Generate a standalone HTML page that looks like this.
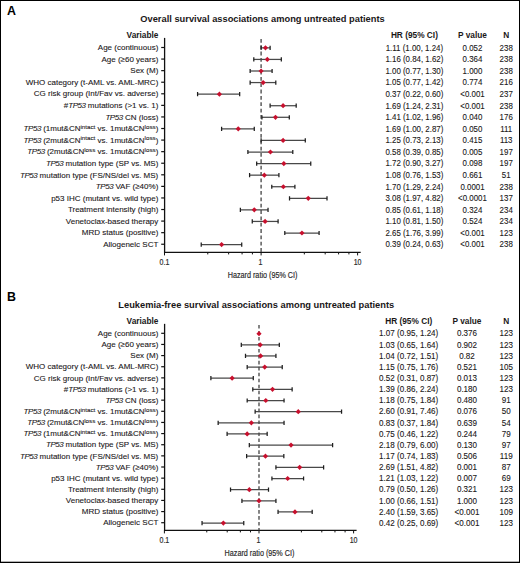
<!DOCTYPE html>
<html><head><meta charset="utf-8"><style>
html,body{margin:0;padding:0;background:#fff;}
body{width:520px;height:563px;overflow:hidden;position:relative;font-family:"Liberation Sans", sans-serif;}
#frame{position:absolute;left:0;top:0;width:518px;height:561px;border:1px solid #000;}
svg{position:absolute;left:0;top:0;}
#bb{position:absolute;left:1px;top:561px;width:518px;height:1px;background:rgba(0,0,0,0.3);}
</style></head><body><div id="frame"></div><div id="bb"></div>
<svg width="520" height="563" viewBox="0 0 520 563" font-family='"Liberation Sans", sans-serif' fill="#1a1718"><style>.r{stroke:#1a1718;stroke-width:0.1px;}</style>
<text x="6.90" y="15.30" font-size="12.4" font-weight="bold" fill="#000">A</text>
<text x="262.50" y="22.40" font-size="9.4" text-anchor="middle" font-weight="bold" transform="matrix(0.99 0 0 1 2.625 0)">Overall survival associations among untreated patients</text>
<text x="158.40" y="38.00" font-size="8.3" text-anchor="end" font-weight="bold">Variable</text>
<text x="414.40" y="38.00" font-size="8.3" text-anchor="middle" font-weight="bold">HR (95% CI)</text>
<text x="472.50" y="38.00" font-size="8.3" text-anchor="middle" font-weight="bold">P value</text>
<text x="506.20" y="38.00" font-size="8.3" text-anchor="middle" font-weight="bold">N</text>
<line x1="164.6" y1="37.9" x2="164.6" y2="253.1" stroke="#111" stroke-width="1.3"/>
<line x1="164.0" y1="252.4" x2="360.7" y2="252.4" stroke="#111" stroke-width="1.3"/>
<line x1="261.1" y1="38.9" x2="261.1" y2="252.4" stroke="#4a4a4a" stroke-width="1.35" stroke-dasharray="3.8 2.54"/>
<line x1="164.5" y1="252.4" x2="164.5" y2="255.4" stroke="#111" stroke-width="1"/>
<text x="164.50" y="265.00" font-size="8.3" text-anchor="middle" fill="#2a2a2a" transform="matrix(0.85 0 0 1 24.675 0)" stroke="#2a2a2a" stroke-width="0.18">0.1</text>
<line x1="261.1" y1="252.4" x2="261.1" y2="255.4" stroke="#111" stroke-width="1"/>
<text x="260.50" y="265.00" font-size="8.3" text-anchor="middle" fill="#2a2a2a" transform="matrix(0.85 0 0 1 39.075 0)" stroke="#2a2a2a" stroke-width="0.18">1</text>
<line x1="357.6" y1="252.4" x2="357.6" y2="255.4" stroke="#111" stroke-width="1"/>
<text x="357.60" y="265.00" font-size="8.3" text-anchor="middle" fill="#2a2a2a" transform="matrix(0.85 0 0 1 53.640 0)" stroke="#2a2a2a" stroke-width="0.18">10</text>
<line x1="207.78" y1="252.4" x2="207.78" y2="254.4" stroke="#111" stroke-width="1"/>
<line x1="228.64" y1="252.4" x2="228.64" y2="254.4" stroke="#111" stroke-width="1"/>
<line x1="242.07" y1="252.4" x2="242.07" y2="254.4" stroke="#111" stroke-width="1"/>
<line x1="252.41" y1="252.4" x2="252.41" y2="254.4" stroke="#111" stroke-width="1"/>
<line x1="304.33" y1="252.4" x2="304.33" y2="254.4" stroke="#111" stroke-width="1"/>
<line x1="325.18" y1="252.4" x2="325.18" y2="254.4" stroke="#111" stroke-width="1"/>
<line x1="338.59" y1="252.4" x2="338.59" y2="254.4" stroke="#111" stroke-width="1"/>
<line x1="348.92" y1="252.4" x2="348.92" y2="254.4" stroke="#111" stroke-width="1"/>
<text x="262.60" y="277.70" font-size="8.4" text-anchor="middle" fill="#2a2a2a" transform="matrix(0.86 0 0 1 36.764 0)" stroke="#2a2a2a" stroke-width="0.18">Hazard ratio (95% CI)</text>
<line x1="161.2" y1="47.50" x2="164.5" y2="47.50" stroke="#111" stroke-width="1.2"/>
<path d="M261.10 47.85H270.12" stroke="#484848" stroke-width="1.25" fill="none"/>
<path d="M261.10 45.75V49.95M270.12 45.75V49.95" stroke="#1e1e1e" stroke-width="1.25" fill="none"/>
<path d="M265.47 45.25L268.07 47.85L265.47 50.45L262.87 47.85Z" fill="#c8102e"/>
<text x="158.30" y="50.20" font-size="8.0" text-anchor="end" class="r">Age (continuous)</text>
<text x="414.40" y="50.70" font-size="8.2" text-anchor="middle" transform="matrix(0.965 0 0 1 14.504 0)" class="r">1.11 (1.00, 1.24)</text>
<text x="472.50" y="50.70" font-size="8.2" text-anchor="middle" transform="matrix(0.965 0 0 1 16.538 0)" class="r">0.052</text>
<text x="506.20" y="50.70" font-size="8.2" text-anchor="middle" transform="matrix(0.965 0 0 1 17.717 0)" class="r">238</text>
<line x1="161.2" y1="59.07" x2="164.5" y2="59.07" stroke="#111" stroke-width="1.2"/>
<path d="M253.79 59.42H281.32" stroke="#484848" stroke-width="1.25" fill="none"/>
<path d="M253.79 57.32V61.52M281.32 57.32V61.52" stroke="#1e1e1e" stroke-width="1.25" fill="none"/>
<path d="M267.32 56.82L269.92 59.42L267.32 62.02L264.72 59.42Z" fill="#c8102e"/>
<text x="158.30" y="61.77" font-size="8.0" text-anchor="end" class="r">Age (≥60 years)</text>
<text x="414.40" y="62.27" font-size="8.2" text-anchor="middle" transform="matrix(0.965 0 0 1 14.504 0)" class="r">1.16 (0.84, 1.62)</text>
<text x="472.50" y="62.27" font-size="8.2" text-anchor="middle" transform="matrix(0.965 0 0 1 16.538 0)" class="r">0.364</text>
<text x="506.20" y="62.27" font-size="8.2" text-anchor="middle" transform="matrix(0.965 0 0 1 17.717 0)" class="r">238</text>
<line x1="161.2" y1="70.65" x2="164.5" y2="70.65" stroke="#111" stroke-width="1.2"/>
<path d="M250.14 71.00H272.10" stroke="#484848" stroke-width="1.25" fill="none"/>
<path d="M250.14 68.90V73.10M272.10 68.90V73.10" stroke="#1e1e1e" stroke-width="1.25" fill="none"/>
<path d="M261.10 68.40L263.70 71.00L261.10 73.60L258.50 71.00Z" fill="#c8102e"/>
<text x="158.30" y="73.35" font-size="8.0" text-anchor="end" class="r">Sex (M)</text>
<text x="414.40" y="73.85" font-size="8.2" text-anchor="middle" transform="matrix(0.965 0 0 1 14.504 0)" class="r">1.00 (0.77, 1.30)</text>
<text x="472.50" y="73.85" font-size="8.2" text-anchor="middle" transform="matrix(0.965 0 0 1 16.538 0)" class="r">1.000</text>
<text x="506.20" y="73.85" font-size="8.2" text-anchor="middle" transform="matrix(0.965 0 0 1 17.717 0)" class="r">238</text>
<line x1="161.2" y1="82.22" x2="164.5" y2="82.22" stroke="#111" stroke-width="1.2"/>
<path d="M250.14 82.57H275.80" stroke="#484848" stroke-width="1.25" fill="none"/>
<path d="M250.14 80.47V84.67M275.80 80.47V84.67" stroke="#1e1e1e" stroke-width="1.25" fill="none"/>
<path d="M263.14 79.97L265.74 82.57L263.14 85.17L260.54 82.57Z" fill="#c8102e"/>
<text x="158.30" y="84.92" font-size="8.0" text-anchor="end" class="r">WHO category (t-AML vs. AML-MRC)</text>
<text x="414.40" y="85.42" font-size="8.2" text-anchor="middle" transform="matrix(0.965 0 0 1 14.504 0)" class="r">1.05 (0.77, 1.42)</text>
<text x="472.50" y="85.42" font-size="8.2" text-anchor="middle" transform="matrix(0.965 0 0 1 16.538 0)" class="r">0.774</text>
<text x="506.20" y="85.42" font-size="8.2" text-anchor="middle" transform="matrix(0.965 0 0 1 17.717 0)" class="r">216</text>
<line x1="161.2" y1="93.79" x2="164.5" y2="93.79" stroke="#111" stroke-width="1.2"/>
<path d="M197.58 94.14H239.67" stroke="#484848" stroke-width="1.25" fill="none"/>
<path d="M197.58 92.04V96.24M239.67 92.04V96.24" stroke="#1e1e1e" stroke-width="1.25" fill="none"/>
<path d="M219.39 91.54L221.99 94.14L219.39 96.74L216.79 94.14Z" fill="#c8102e"/>
<text x="158.30" y="96.49" font-size="8.0" text-anchor="end" class="r">CG risk group (Int/Fav vs. adverse)</text>
<text x="414.40" y="96.99" font-size="8.2" text-anchor="middle" transform="matrix(0.965 0 0 1 14.504 0)" class="r">0.37 (0.22, 0.60)</text>
<text x="472.50" y="96.99" font-size="8.2" text-anchor="middle" transform="matrix(0.965 0 0 1 16.538 0)" class="r">&lt;0.001</text>
<text x="506.20" y="96.99" font-size="8.2" text-anchor="middle" transform="matrix(0.965 0 0 1 17.717 0)" class="r">237</text>
<line x1="161.2" y1="105.37" x2="164.5" y2="105.37" stroke="#111" stroke-width="1.2"/>
<path d="M270.12 105.72H296.19" stroke="#484848" stroke-width="1.25" fill="none"/>
<path d="M270.12 103.62V107.81M296.19 103.62V107.81" stroke="#1e1e1e" stroke-width="1.25" fill="none"/>
<path d="M283.09 103.12L285.69 105.72L283.09 108.31L280.49 105.72Z" fill="#c8102e"/>
<text x="158.30" y="108.07" font-size="8.0" text-anchor="end" class="r">#<tspan font-style="italic" letter-spacing="-0.45">TP53</tspan> mutations (&gt;1 vs. 1)</text>
<text x="414.40" y="108.57" font-size="8.2" text-anchor="middle" transform="matrix(0.965 0 0 1 14.504 0)" class="r">1.69 (1.24, 2.31)</text>
<text x="472.50" y="108.57" font-size="8.2" text-anchor="middle" transform="matrix(0.965 0 0 1 16.538 0)" class="r">&lt;0.001</text>
<text x="506.20" y="108.57" font-size="8.2" text-anchor="middle" transform="matrix(0.965 0 0 1 17.717 0)" class="r">238</text>
<line x1="161.2" y1="116.94" x2="164.5" y2="116.94" stroke="#111" stroke-width="1.2"/>
<path d="M261.93 117.29H289.30" stroke="#484848" stroke-width="1.25" fill="none"/>
<path d="M261.93 115.19V119.39M289.30 115.19V119.39" stroke="#1e1e1e" stroke-width="1.25" fill="none"/>
<path d="M275.50 114.69L278.10 117.29L275.50 119.89L272.90 117.29Z" fill="#c8102e"/>
<text x="158.30" y="119.64" font-size="8.0" text-anchor="end" class="r"><tspan font-style="italic" letter-spacing="-0.45">TP53</tspan> CN (loss)</text>
<text x="414.40" y="120.14" font-size="8.2" text-anchor="middle" transform="matrix(0.965 0 0 1 14.504 0)" class="r">1.41 (1.02, 1.96)</text>
<text x="472.50" y="120.14" font-size="8.2" text-anchor="middle" transform="matrix(0.965 0 0 1 16.538 0)" class="r">0.040</text>
<text x="506.20" y="120.14" font-size="8.2" text-anchor="middle" transform="matrix(0.965 0 0 1 17.717 0)" class="r">176</text>
<line x1="161.2" y1="128.51" x2="164.5" y2="128.51" stroke="#111" stroke-width="1.2"/>
<path d="M221.60 128.86H254.28" stroke="#484848" stroke-width="1.25" fill="none"/>
<path d="M221.60 126.76V130.96M254.28 126.76V130.96" stroke="#1e1e1e" stroke-width="1.25" fill="none"/>
<path d="M238.25 126.26L240.85 128.86L238.25 131.46L235.65 128.86Z" fill="#c8102e"/>
<text x="158.30" y="131.21" font-size="8.0" text-anchor="end" class="r"><tspan font-style="italic" letter-spacing="-0.45">TP53</tspan> (1mut&amp;CN<tspan font-size="6.2" dy="-2.4">intact</tspan><tspan dy="2.4"> vs. 1mut&amp;CN</tspan><tspan font-size="6.2" dy="-2.4">loss</tspan><tspan dy="2.4">)</tspan></text>
<text x="414.40" y="131.71" font-size="8.2" text-anchor="middle" transform="matrix(0.965 0 0 1 14.504 0)" class="r">1.69 (1.00, 2.87)</text>
<text x="472.50" y="131.71" font-size="8.2" text-anchor="middle" transform="matrix(0.965 0 0 1 16.538 0)" class="r">0.050</text>
<text x="506.20" y="131.71" font-size="8.2" text-anchor="middle" transform="matrix(0.965 0 0 1 17.717 0)" class="r">111</text>
<line x1="161.2" y1="140.08" x2="164.5" y2="140.08" stroke="#111" stroke-width="1.2"/>
<path d="M261.10 140.43H305.29" stroke="#484848" stroke-width="1.25" fill="none"/>
<path d="M261.10 138.33V142.53M305.29 138.33V142.53" stroke="#1e1e1e" stroke-width="1.25" fill="none"/>
<path d="M283.09 137.83L285.69 140.43L283.09 143.03L280.49 140.43Z" fill="#c8102e"/>
<text x="158.30" y="142.78" font-size="8.0" text-anchor="end" class="r"><tspan font-style="italic" letter-spacing="-0.45">TP53</tspan> (2mut&amp;CN<tspan font-size="6.2" dy="-2.4">intact</tspan><tspan dy="2.4"> vs. 1mut&amp;CN</tspan><tspan font-size="6.2" dy="-2.4">loss</tspan><tspan dy="2.4">)</tspan></text>
<text x="414.40" y="143.28" font-size="8.2" text-anchor="middle" transform="matrix(0.965 0 0 1 14.504 0)" class="r">1.25 (0.73, 2.13)</text>
<text x="472.50" y="143.28" font-size="8.2" text-anchor="middle" transform="matrix(0.965 0 0 1 16.538 0)" class="r">0.415</text>
<text x="506.20" y="143.28" font-size="8.2" text-anchor="middle" transform="matrix(0.965 0 0 1 17.717 0)" class="r">113</text>
<line x1="161.2" y1="151.66" x2="164.5" y2="151.66" stroke="#111" stroke-width="1.2"/>
<path d="M247.90 152.01H292.79" stroke="#484848" stroke-width="1.25" fill="none"/>
<path d="M247.90 149.91V154.11M292.79 149.91V154.11" stroke="#1e1e1e" stroke-width="1.25" fill="none"/>
<path d="M270.45 149.41L273.05 152.01L270.45 154.61L267.85 152.01Z" fill="#c8102e"/>
<text x="158.30" y="154.36" font-size="8.0" text-anchor="end" class="r"><tspan font-style="italic" letter-spacing="-0.45">TP53</tspan> (2mut&amp;CN<tspan font-size="6.2" dy="-2.4">loss</tspan><tspan dy="2.4"> vs. 1mut&amp;CN</tspan><tspan font-size="6.2" dy="-2.4">loss</tspan><tspan dy="2.4">)</tspan></text>
<text x="414.40" y="154.86" font-size="8.2" text-anchor="middle" transform="matrix(0.965 0 0 1 14.504 0)" class="r">0.58 (0.39, 0.85)</text>
<text x="472.50" y="154.86" font-size="8.2" text-anchor="middle" transform="matrix(0.965 0 0 1 16.538 0)" class="r">0.005</text>
<text x="506.20" y="154.86" font-size="8.2" text-anchor="middle" transform="matrix(0.965 0 0 1 17.717 0)" class="r">197</text>
<line x1="161.2" y1="163.23" x2="164.5" y2="163.23" stroke="#111" stroke-width="1.2"/>
<path d="M256.68 163.58H310.75" stroke="#484848" stroke-width="1.25" fill="none"/>
<path d="M256.68 161.48V165.68M310.75 161.48V165.68" stroke="#1e1e1e" stroke-width="1.25" fill="none"/>
<path d="M283.83 160.98L286.43 163.58L283.83 166.18L281.23 163.58Z" fill="#c8102e"/>
<text x="158.30" y="165.93" font-size="8.0" text-anchor="end" class="r"><tspan font-style="italic" letter-spacing="-0.45">TP53</tspan> mutation type (SP vs. MS)</text>
<text x="414.40" y="166.43" font-size="8.2" text-anchor="middle" transform="matrix(0.965 0 0 1 14.504 0)" class="r">1.72 (0.90, 3.27)</text>
<text x="472.50" y="166.43" font-size="8.2" text-anchor="middle" transform="matrix(0.965 0 0 1 16.538 0)" class="r">0.098</text>
<text x="506.20" y="166.43" font-size="8.2" text-anchor="middle" transform="matrix(0.965 0 0 1 17.717 0)" class="r">197</text>
<line x1="161.2" y1="174.80" x2="164.5" y2="174.80" stroke="#111" stroke-width="1.2"/>
<path d="M249.59 175.15H278.92" stroke="#484848" stroke-width="1.25" fill="none"/>
<path d="M249.59 173.05V177.25M278.92 173.05V177.25" stroke="#1e1e1e" stroke-width="1.25" fill="none"/>
<path d="M264.33 172.55L266.93 175.15L264.33 177.75L261.73 175.15Z" fill="#c8102e"/>
<text x="158.30" y="177.50" font-size="8.0" text-anchor="end" class="r"><tspan font-style="italic" letter-spacing="-0.45">TP53</tspan> mutation type (FS/NS/del vs. MS)</text>
<text x="414.40" y="178.00" font-size="8.2" text-anchor="middle" transform="matrix(0.965 0 0 1 14.504 0)" class="r">1.08 (0.76, 1.53)</text>
<text x="472.50" y="178.00" font-size="8.2" text-anchor="middle" transform="matrix(0.965 0 0 1 16.538 0)" class="r">0.661</text>
<text x="506.20" y="178.00" font-size="8.2" text-anchor="middle" transform="matrix(0.965 0 0 1 17.717 0)" class="r">51</text>
<line x1="161.2" y1="186.38" x2="164.5" y2="186.38" stroke="#111" stroke-width="1.2"/>
<path d="M271.77 186.73H294.90" stroke="#484848" stroke-width="1.25" fill="none"/>
<path d="M271.77 184.63V188.83M294.90 184.63V188.83" stroke="#1e1e1e" stroke-width="1.25" fill="none"/>
<path d="M283.34 184.13L285.94 186.73L283.34 189.33L280.74 186.73Z" fill="#c8102e"/>
<text x="158.30" y="189.08" font-size="8.0" text-anchor="end" class="r"><tspan font-style="italic" letter-spacing="-0.45">TP53</tspan> VAF (≥40%)</text>
<text x="414.40" y="189.58" font-size="8.2" text-anchor="middle" transform="matrix(0.965 0 0 1 14.504 0)" class="r">1.70 (1.29, 2.24)</text>
<text x="472.50" y="189.58" font-size="8.2" text-anchor="middle" transform="matrix(0.965 0 0 1 16.538 0)" class="r">0.0001</text>
<text x="506.20" y="189.58" font-size="8.2" text-anchor="middle" transform="matrix(0.965 0 0 1 17.717 0)" class="r">238</text>
<line x1="161.2" y1="197.95" x2="164.5" y2="197.95" stroke="#111" stroke-width="1.2"/>
<path d="M289.52 198.30H327.01" stroke="#484848" stroke-width="1.25" fill="none"/>
<path d="M289.52 196.20V200.40M327.01 196.20V200.40" stroke="#1e1e1e" stroke-width="1.25" fill="none"/>
<path d="M308.25 195.70L310.85 198.30L308.25 200.90L305.65 198.30Z" fill="#c8102e"/>
<text x="158.30" y="200.65" font-size="8.0" text-anchor="end" class="r">p53 IHC (mutant vs. wild type)</text>
<text x="414.40" y="201.15" font-size="8.2" text-anchor="middle" transform="matrix(0.965 0 0 1 14.504 0)" class="r">3.08 (1.97, 4.82)</text>
<text x="472.50" y="201.15" font-size="8.2" text-anchor="middle" transform="matrix(0.965 0 0 1 16.538 0)" class="r">&lt;0.0001</text>
<text x="506.20" y="201.15" font-size="8.2" text-anchor="middle" transform="matrix(0.965 0 0 1 17.717 0)" class="r">137</text>
<line x1="161.2" y1="209.52" x2="164.5" y2="209.52" stroke="#111" stroke-width="1.2"/>
<path d="M240.36 209.87H268.04" stroke="#484848" stroke-width="1.25" fill="none"/>
<path d="M240.36 207.77V211.97M268.04 207.77V211.97" stroke="#1e1e1e" stroke-width="1.25" fill="none"/>
<path d="M254.28 207.27L256.88 209.87L254.28 212.47L251.68 209.87Z" fill="#c8102e"/>
<text x="158.30" y="212.22" font-size="8.0" text-anchor="end" class="r">Treatment intensity (high)</text>
<text x="414.40" y="212.72" font-size="8.2" text-anchor="middle" transform="matrix(0.965 0 0 1 14.504 0)" class="r">0.85 (0.61, 1.18)</text>
<text x="472.50" y="212.72" font-size="8.2" text-anchor="middle" transform="matrix(0.965 0 0 1 16.538 0)" class="r">0.324</text>
<text x="506.20" y="212.72" font-size="8.2" text-anchor="middle" transform="matrix(0.965 0 0 1 17.717 0)" class="r">234</text>
<line x1="161.2" y1="221.09" x2="164.5" y2="221.09" stroke="#111" stroke-width="1.2"/>
<path d="M252.26 221.44H278.09" stroke="#484848" stroke-width="1.25" fill="none"/>
<path d="M252.26 219.34V223.54M278.09 219.34V223.54" stroke="#1e1e1e" stroke-width="1.25" fill="none"/>
<path d="M265.09 218.84L267.69 221.44L265.09 224.04L262.49 221.44Z" fill="#c8102e"/>
<text x="158.30" y="223.79" font-size="8.0" text-anchor="end" class="r">Venetoclax-based therapy</text>
<text x="414.40" y="224.29" font-size="8.2" text-anchor="middle" transform="matrix(0.965 0 0 1 14.504 0)" class="r">1.10 (0.81, 1.50)</text>
<text x="472.50" y="224.29" font-size="8.2" text-anchor="middle" transform="matrix(0.965 0 0 1 16.538 0)" class="r">0.524</text>
<text x="506.20" y="224.29" font-size="8.2" text-anchor="middle" transform="matrix(0.965 0 0 1 17.717 0)" class="r">234</text>
<line x1="161.2" y1="232.67" x2="164.5" y2="232.67" stroke="#111" stroke-width="1.2"/>
<path d="M284.79 233.02H319.09" stroke="#484848" stroke-width="1.25" fill="none"/>
<path d="M284.79 230.92V235.12M319.09 230.92V235.12" stroke="#1e1e1e" stroke-width="1.25" fill="none"/>
<path d="M301.94 230.42L304.54 233.02L301.94 235.62L299.34 233.02Z" fill="#c8102e"/>
<text x="158.30" y="235.37" font-size="8.0" text-anchor="end" class="r">MRD status (positive)</text>
<text x="414.40" y="235.87" font-size="8.2" text-anchor="middle" transform="matrix(0.965 0 0 1 14.504 0)" class="r">2.65 (1.76, 3.99)</text>
<text x="472.50" y="235.87" font-size="8.2" text-anchor="middle" transform="matrix(0.965 0 0 1 16.538 0)" class="r">&lt;0.001</text>
<text x="506.20" y="235.87" font-size="8.2" text-anchor="middle" transform="matrix(0.965 0 0 1 17.717 0)" class="r">123</text>
<line x1="161.2" y1="244.24" x2="164.5" y2="244.24" stroke="#111" stroke-width="1.2"/>
<path d="M201.23 244.59H241.72" stroke="#484848" stroke-width="1.25" fill="none"/>
<path d="M201.23 242.49V246.69M241.72 242.49V246.69" stroke="#1e1e1e" stroke-width="1.25" fill="none"/>
<path d="M221.60 241.99L224.20 244.59L221.60 247.19L219.00 244.59Z" fill="#c8102e"/>
<text x="158.30" y="246.94" font-size="8.0" text-anchor="end" class="r">Allogeneic SCT</text>
<text x="414.40" y="247.44" font-size="8.2" text-anchor="middle" transform="matrix(0.965 0 0 1 14.504 0)" class="r">0.39 (0.24, 0.63)</text>
<text x="472.50" y="247.44" font-size="8.2" text-anchor="middle" transform="matrix(0.965 0 0 1 16.538 0)" class="r">&lt;0.001</text>
<text x="506.20" y="247.44" font-size="8.2" text-anchor="middle" transform="matrix(0.965 0 0 1 17.717 0)" class="r">238</text>
<text x="6.90" y="300.60" font-size="12.4" font-weight="bold" fill="#000">B</text>
<text x="256.25" y="307.90" font-size="9.4" text-anchor="middle" font-weight="bold" transform="matrix(0.99 0 0 1 2.563 0)">Leukemia-free survival associations among untreated patients</text>
<text x="158.40" y="324.10" font-size="8.3" text-anchor="end" font-weight="bold">Variable</text>
<text x="408.70" y="324.20" font-size="8.3" text-anchor="middle" font-weight="bold">HR (95% CI)</text>
<text x="467.00" y="324.20" font-size="8.3" text-anchor="middle" font-weight="bold">P value</text>
<text x="506.20" y="324.20" font-size="8.3" text-anchor="middle" font-weight="bold">N</text>
<line x1="164.6" y1="323.85" x2="164.6" y2="531.1" stroke="#111" stroke-width="1.3"/>
<line x1="164.0" y1="530.4" x2="356.6" y2="530.4" stroke="#111" stroke-width="1.3"/>
<line x1="259.0" y1="325.0" x2="259.0" y2="530.4" stroke="#4a4a4a" stroke-width="1.35" stroke-dasharray="3.6 2.37"/>
<line x1="164.4" y1="530.4" x2="164.4" y2="533.4" stroke="#111" stroke-width="1"/>
<text x="164.40" y="543.00" font-size="8.3" text-anchor="middle" fill="#2a2a2a" transform="matrix(0.85 0 0 1 24.660 0)" stroke="#2a2a2a" stroke-width="0.18">0.1</text>
<line x1="259.0" y1="530.4" x2="259.0" y2="533.4" stroke="#111" stroke-width="1"/>
<text x="258.40" y="543.00" font-size="8.3" text-anchor="middle" fill="#2a2a2a" transform="matrix(0.85 0 0 1 38.760 0)" stroke="#2a2a2a" stroke-width="0.18">1</text>
<line x1="353.6" y1="530.4" x2="353.6" y2="533.4" stroke="#111" stroke-width="1"/>
<text x="353.60" y="543.00" font-size="8.3" text-anchor="middle" fill="#2a2a2a" transform="matrix(0.85 0 0 1 53.040 0)" stroke="#2a2a2a" stroke-width="0.18">10</text>
<line x1="206.78" y1="530.4" x2="206.78" y2="532.4" stroke="#111" stroke-width="1"/>
<line x1="227.21" y1="530.4" x2="227.21" y2="532.4" stroke="#111" stroke-width="1"/>
<line x1="240.36" y1="530.4" x2="240.36" y2="532.4" stroke="#111" stroke-width="1"/>
<line x1="250.49" y1="530.4" x2="250.49" y2="532.4" stroke="#111" stroke-width="1"/>
<line x1="301.38" y1="530.4" x2="301.38" y2="532.4" stroke="#111" stroke-width="1"/>
<line x1="321.81" y1="530.4" x2="321.81" y2="532.4" stroke="#111" stroke-width="1"/>
<line x1="334.96" y1="530.4" x2="334.96" y2="532.4" stroke="#111" stroke-width="1"/>
<line x1="345.09" y1="530.4" x2="345.09" y2="532.4" stroke="#111" stroke-width="1"/>
<text x="259.50" y="555.70" font-size="8.4" text-anchor="middle" fill="#2a2a2a" transform="matrix(0.86 0 0 1 36.330 0)" stroke="#2a2a2a" stroke-width="0.18">Hazard ratio (95% CI)</text>
<line x1="161.2" y1="333.30" x2="164.5" y2="333.30" stroke="#111" stroke-width="1.2"/>
<path d="M259.00 331.05L261.60 333.65L259.00 336.25L256.40 333.65Z" fill="#c8102e"/>
<text x="158.30" y="336.00" font-size="8.0" text-anchor="end" class="r">Age (continuous)</text>
<text x="408.70" y="336.50" font-size="8.2" text-anchor="middle" transform="matrix(0.985 0 0 1 6.131 0)" class="r">1.07 (0.95, 1.24)</text>
<text x="467.00" y="336.50" font-size="8.2" text-anchor="middle" transform="matrix(0.985 0 0 1 7.005 0)" class="r">0.376</text>
<text x="506.20" y="336.50" font-size="8.2" text-anchor="middle" transform="matrix(0.985 0 0 1 7.593 0)" class="r">123</text>
<line x1="161.2" y1="344.44" x2="164.5" y2="344.44" stroke="#111" stroke-width="1.2"/>
<path d="M241.30 344.79H279.32" stroke="#484848" stroke-width="1.25" fill="none"/>
<path d="M241.30 342.69V346.89M279.32 342.69V346.89" stroke="#1e1e1e" stroke-width="1.25" fill="none"/>
<path d="M260.21 342.19L262.81 344.79L260.21 347.39L257.61 344.79Z" fill="#c8102e"/>
<text x="158.30" y="347.14" font-size="8.0" text-anchor="end" class="r">Age (≥60 years)</text>
<text x="408.70" y="347.64" font-size="8.2" text-anchor="middle" transform="matrix(0.985 0 0 1 6.131 0)" class="r">1.03 (0.65, 1.64)</text>
<text x="467.00" y="347.64" font-size="8.2" text-anchor="middle" transform="matrix(0.985 0 0 1 7.005 0)" class="r">0.902</text>
<text x="506.20" y="347.64" font-size="8.2" text-anchor="middle" transform="matrix(0.985 0 0 1 7.593 0)" class="r">123</text>
<line x1="161.2" y1="355.58" x2="164.5" y2="355.58" stroke="#111" stroke-width="1.2"/>
<path d="M245.50 355.93H275.93" stroke="#484848" stroke-width="1.25" fill="none"/>
<path d="M245.50 353.83V358.03M275.93 353.83V358.03" stroke="#1e1e1e" stroke-width="1.25" fill="none"/>
<path d="M260.61 353.33L263.21 355.93L260.61 358.53L258.01 355.93Z" fill="#c8102e"/>
<text x="158.30" y="358.28" font-size="8.0" text-anchor="end" class="r">Sex (M)</text>
<text x="408.70" y="358.78" font-size="8.2" text-anchor="middle" transform="matrix(0.985 0 0 1 6.131 0)" class="r">1.04 (0.72, 1.51)</text>
<text x="467.00" y="358.78" font-size="8.2" text-anchor="middle" transform="matrix(0.985 0 0 1 7.005 0)" class="r">0.82</text>
<text x="506.20" y="358.78" font-size="8.2" text-anchor="middle" transform="matrix(0.985 0 0 1 7.593 0)" class="r">123</text>
<line x1="161.2" y1="366.73" x2="164.5" y2="366.73" stroke="#111" stroke-width="1.2"/>
<path d="M247.18 367.08H282.23" stroke="#484848" stroke-width="1.25" fill="none"/>
<path d="M247.18 364.98V369.18M282.23 364.98V369.18" stroke="#1e1e1e" stroke-width="1.25" fill="none"/>
<path d="M264.74 364.48L267.34 367.08L264.74 369.68L262.14 367.08Z" fill="#c8102e"/>
<text x="158.30" y="369.43" font-size="8.0" text-anchor="end" class="r">WHO category (t-AML vs. AML-MRC)</text>
<text x="408.70" y="369.93" font-size="8.2" text-anchor="middle" transform="matrix(0.985 0 0 1 6.131 0)" class="r">1.15 (0.75, 1.76)</text>
<text x="467.00" y="369.93" font-size="8.2" text-anchor="middle" transform="matrix(0.985 0 0 1 7.005 0)" class="r">0.521</text>
<text x="506.20" y="369.93" font-size="8.2" text-anchor="middle" transform="matrix(0.985 0 0 1 7.593 0)" class="r">105</text>
<line x1="161.2" y1="377.87" x2="164.5" y2="377.87" stroke="#111" stroke-width="1.2"/>
<path d="M210.88 378.22H253.28" stroke="#484848" stroke-width="1.25" fill="none"/>
<path d="M210.88 376.12V380.32M253.28 376.12V380.32" stroke="#1e1e1e" stroke-width="1.25" fill="none"/>
<path d="M232.13 375.62L234.73 378.22L232.13 380.82L229.53 378.22Z" fill="#c8102e"/>
<text x="158.30" y="380.57" font-size="8.0" text-anchor="end" class="r">CG risk group (Int/Fav vs. adverse)</text>
<text x="408.70" y="381.07" font-size="8.2" text-anchor="middle" transform="matrix(0.985 0 0 1 6.131 0)" class="r">0.52 (0.31, 0.87)</text>
<text x="467.00" y="381.07" font-size="8.2" text-anchor="middle" transform="matrix(0.985 0 0 1 7.005 0)" class="r">0.013</text>
<text x="506.20" y="381.07" font-size="8.2" text-anchor="middle" transform="matrix(0.985 0 0 1 7.593 0)" class="r">123</text>
<line x1="161.2" y1="389.01" x2="164.5" y2="389.01" stroke="#111" stroke-width="1.2"/>
<path d="M252.80 389.36H292.13" stroke="#484848" stroke-width="1.25" fill="none"/>
<path d="M252.80 387.26V391.46M292.13 387.26V391.46" stroke="#1e1e1e" stroke-width="1.25" fill="none"/>
<path d="M272.53 386.76L275.13 389.36L272.53 391.96L269.93 389.36Z" fill="#c8102e"/>
<text x="158.30" y="391.71" font-size="8.0" text-anchor="end" class="r">#<tspan font-style="italic" letter-spacing="-0.45">TP53</tspan> mutations (&gt;1 vs. 1)</text>
<text x="408.70" y="392.21" font-size="8.2" text-anchor="middle" transform="matrix(0.985 0 0 1 6.131 0)" class="r">1.39 (0.86, 2.24)</text>
<text x="467.00" y="392.21" font-size="8.2" text-anchor="middle" transform="matrix(0.985 0 0 1 7.005 0)" class="r">0.180</text>
<text x="506.20" y="392.21" font-size="8.2" text-anchor="middle" transform="matrix(0.985 0 0 1 7.593 0)" class="r">123</text>
<line x1="161.2" y1="400.15" x2="164.5" y2="400.15" stroke="#111" stroke-width="1.2"/>
<path d="M247.18 400.50H284.05" stroke="#484848" stroke-width="1.25" fill="none"/>
<path d="M247.18 398.40V402.60M284.05 398.40V402.60" stroke="#1e1e1e" stroke-width="1.25" fill="none"/>
<path d="M265.80 397.90L268.40 400.50L265.80 403.10L263.20 400.50Z" fill="#c8102e"/>
<text x="158.30" y="402.85" font-size="8.0" text-anchor="end" class="r"><tspan font-style="italic" letter-spacing="-0.45">TP53</tspan> CN (loss)</text>
<text x="408.70" y="403.35" font-size="8.2" text-anchor="middle" transform="matrix(0.985 0 0 1 6.131 0)" class="r">1.18 (0.75, 1.84)</text>
<text x="467.00" y="403.35" font-size="8.2" text-anchor="middle" transform="matrix(0.985 0 0 1 7.005 0)" class="r">0.480</text>
<text x="506.20" y="403.35" font-size="8.2" text-anchor="middle" transform="matrix(0.985 0 0 1 7.593 0)" class="r">91</text>
<line x1="161.2" y1="411.29" x2="164.5" y2="411.29" stroke="#111" stroke-width="1.2"/>
<path d="M255.13 411.64H341.56" stroke="#484848" stroke-width="1.25" fill="none"/>
<path d="M255.13 409.54V413.74M341.56 409.54V413.74" stroke="#1e1e1e" stroke-width="1.25" fill="none"/>
<path d="M298.26 409.04L300.86 411.64L298.26 414.24L295.66 411.64Z" fill="#c8102e"/>
<text x="158.30" y="413.99" font-size="8.0" text-anchor="end" class="r"><tspan font-style="italic" letter-spacing="-0.45">TP53</tspan> (2mut&amp;CN<tspan font-size="6.2" dy="-2.4">intact</tspan><tspan dy="2.4"> vs. 1mut&amp;CN</tspan><tspan font-size="6.2" dy="-2.4">loss</tspan><tspan dy="2.4">)</tspan></text>
<text x="408.70" y="414.49" font-size="8.2" text-anchor="middle" transform="matrix(0.985 0 0 1 6.131 0)" class="r">2.60 (0.91, 7.46)</text>
<text x="467.00" y="414.49" font-size="8.2" text-anchor="middle" transform="matrix(0.985 0 0 1 7.005 0)" class="r">0.076</text>
<text x="506.20" y="414.49" font-size="8.2" text-anchor="middle" transform="matrix(0.985 0 0 1 7.593 0)" class="r">50</text>
<line x1="161.2" y1="422.44" x2="164.5" y2="422.44" stroke="#111" stroke-width="1.2"/>
<path d="M218.15 422.79H284.05" stroke="#484848" stroke-width="1.25" fill="none"/>
<path d="M218.15 420.69V424.89M284.05 420.69V424.89" stroke="#1e1e1e" stroke-width="1.25" fill="none"/>
<path d="M251.34 420.19L253.94 422.79L251.34 425.39L248.74 422.79Z" fill="#c8102e"/>
<text x="158.30" y="425.14" font-size="8.0" text-anchor="end" class="r"><tspan font-style="italic" letter-spacing="-0.45">TP53</tspan> (2mut&amp;CN<tspan font-size="6.2" dy="-2.4">loss</tspan><tspan dy="2.4"> vs. 1mut&amp;CN</tspan><tspan font-size="6.2" dy="-2.4">loss</tspan><tspan dy="2.4">)</tspan></text>
<text x="408.70" y="425.64" font-size="8.2" text-anchor="middle" transform="matrix(0.985 0 0 1 6.131 0)" class="r">0.83 (0.37, 1.84)</text>
<text x="467.00" y="425.64" font-size="8.2" text-anchor="middle" transform="matrix(0.985 0 0 1 7.005 0)" class="r">0.639</text>
<text x="506.20" y="425.64" font-size="8.2" text-anchor="middle" transform="matrix(0.985 0 0 1 7.593 0)" class="r">54</text>
<line x1="161.2" y1="433.58" x2="164.5" y2="433.58" stroke="#111" stroke-width="1.2"/>
<path d="M227.10 433.93H267.17" stroke="#484848" stroke-width="1.25" fill="none"/>
<path d="M227.10 431.83V436.03M267.17 431.83V436.03" stroke="#1e1e1e" stroke-width="1.25" fill="none"/>
<path d="M247.18 431.33L249.78 433.93L247.18 436.53L244.58 433.93Z" fill="#c8102e"/>
<text x="158.30" y="436.28" font-size="8.0" text-anchor="end" class="r"><tspan font-style="italic" letter-spacing="-0.45">TP53</tspan> (1mut&amp;CN<tspan font-size="6.2" dy="-2.4">intact</tspan><tspan dy="2.4"> vs. 1mut&amp;CN</tspan><tspan font-size="6.2" dy="-2.4">loss</tspan><tspan dy="2.4">)</tspan></text>
<text x="408.70" y="436.78" font-size="8.2" text-anchor="middle" transform="matrix(0.985 0 0 1 6.131 0)" class="r">0.75 (0.46, 1.22)</text>
<text x="467.00" y="436.78" font-size="8.2" text-anchor="middle" transform="matrix(0.985 0 0 1 7.005 0)" class="r">0.244</text>
<text x="506.20" y="436.78" font-size="8.2" text-anchor="middle" transform="matrix(0.985 0 0 1 7.593 0)" class="r">79</text>
<line x1="161.2" y1="444.72" x2="164.5" y2="444.72" stroke="#111" stroke-width="1.2"/>
<path d="M249.32 445.07H332.61" stroke="#484848" stroke-width="1.25" fill="none"/>
<path d="M249.32 442.97V447.17M332.61 442.97V447.17" stroke="#1e1e1e" stroke-width="1.25" fill="none"/>
<path d="M291.02 442.47L293.62 445.07L291.02 447.67L288.42 445.07Z" fill="#c8102e"/>
<text x="158.30" y="447.42" font-size="8.0" text-anchor="end" class="r"><tspan font-style="italic" letter-spacing="-0.45">TP53</tspan> mutation type (SP vs. MS)</text>
<text x="408.70" y="447.92" font-size="8.2" text-anchor="middle" transform="matrix(0.985 0 0 1 6.131 0)" class="r">2.18 (0.79, 6.00)</text>
<text x="467.00" y="447.92" font-size="8.2" text-anchor="middle" transform="matrix(0.985 0 0 1 7.005 0)" class="r">0.130</text>
<text x="506.20" y="447.92" font-size="8.2" text-anchor="middle" transform="matrix(0.985 0 0 1 7.593 0)" class="r">97</text>
<line x1="161.2" y1="455.86" x2="164.5" y2="455.86" stroke="#111" stroke-width="1.2"/>
<path d="M246.63 456.21H283.83" stroke="#484848" stroke-width="1.25" fill="none"/>
<path d="M246.63 454.11V458.31M283.83 454.11V458.31" stroke="#1e1e1e" stroke-width="1.25" fill="none"/>
<path d="M265.45 453.61L268.05 456.21L265.45 458.81L262.85 456.21Z" fill="#c8102e"/>
<text x="158.30" y="458.56" font-size="8.0" text-anchor="end" class="r"><tspan font-style="italic" letter-spacing="-0.45">TP53</tspan> mutation type (FS/NS/del vs. MS)</text>
<text x="408.70" y="459.06" font-size="8.2" text-anchor="middle" transform="matrix(0.985 0 0 1 6.131 0)" class="r">1.17 (0.74, 1.83)</text>
<text x="467.00" y="459.06" font-size="8.2" text-anchor="middle" transform="matrix(0.985 0 0 1 7.005 0)" class="r">0.506</text>
<text x="506.20" y="459.06" font-size="8.2" text-anchor="middle" transform="matrix(0.985 0 0 1 7.593 0)" class="r">119</text>
<line x1="161.2" y1="467.00" x2="164.5" y2="467.00" stroke="#111" stroke-width="1.2"/>
<path d="M275.93 467.35H323.62" stroke="#484848" stroke-width="1.25" fill="none"/>
<path d="M275.93 465.25V469.45M323.62 465.25V469.45" stroke="#1e1e1e" stroke-width="1.25" fill="none"/>
<path d="M299.65 464.75L302.25 467.35L299.65 469.95L297.05 467.35Z" fill="#c8102e"/>
<text x="158.30" y="469.70" font-size="8.0" text-anchor="end" class="r"><tspan font-style="italic" letter-spacing="-0.45">TP53</tspan> VAF (≥40%)</text>
<text x="408.70" y="470.20" font-size="8.2" text-anchor="middle" transform="matrix(0.985 0 0 1 6.131 0)" class="r">2.69 (1.51, 4.82)</text>
<text x="467.00" y="470.20" font-size="8.2" text-anchor="middle" transform="matrix(0.985 0 0 1 7.005 0)" class="r">0.001</text>
<text x="506.20" y="470.20" font-size="8.2" text-anchor="middle" transform="matrix(0.985 0 0 1 7.593 0)" class="r">87</text>
<line x1="161.2" y1="478.15" x2="164.5" y2="478.15" stroke="#111" stroke-width="1.2"/>
<path d="M271.93 478.50H303.58" stroke="#484848" stroke-width="1.25" fill="none"/>
<path d="M271.93 476.40V480.60M303.58 476.40V480.60" stroke="#1e1e1e" stroke-width="1.25" fill="none"/>
<path d="M287.68 475.90L290.28 478.50L287.68 481.10L285.08 478.50Z" fill="#c8102e"/>
<text x="158.30" y="480.85" font-size="8.0" text-anchor="end" class="r">p53 IHC (mutant vs. wild type)</text>
<text x="408.70" y="481.35" font-size="8.2" text-anchor="middle" transform="matrix(0.985 0 0 1 6.131 0)" class="r">1.21 (1.03, 1.22)</text>
<text x="467.00" y="481.35" font-size="8.2" text-anchor="middle" transform="matrix(0.985 0 0 1 7.005 0)" class="r">0.007</text>
<text x="506.20" y="481.35" font-size="8.2" text-anchor="middle" transform="matrix(0.985 0 0 1 7.593 0)" class="r">69</text>
<line x1="161.2" y1="489.29" x2="164.5" y2="489.29" stroke="#111" stroke-width="1.2"/>
<path d="M230.52 489.64H268.50" stroke="#484848" stroke-width="1.25" fill="none"/>
<path d="M230.52 487.54V491.74M268.50 487.54V491.74" stroke="#1e1e1e" stroke-width="1.25" fill="none"/>
<path d="M249.32 487.04L251.92 489.64L249.32 492.24L246.72 489.64Z" fill="#c8102e"/>
<text x="158.30" y="491.99" font-size="8.0" text-anchor="end" class="r">Treatment intensity (high)</text>
<text x="408.70" y="492.49" font-size="8.2" text-anchor="middle" transform="matrix(0.985 0 0 1 6.131 0)" class="r">0.79 (0.50, 1.26)</text>
<text x="467.00" y="492.49" font-size="8.2" text-anchor="middle" transform="matrix(0.985 0 0 1 7.005 0)" class="r">0.321</text>
<text x="506.20" y="492.49" font-size="8.2" text-anchor="middle" transform="matrix(0.985 0 0 1 7.593 0)" class="r">123</text>
<line x1="161.2" y1="500.43" x2="164.5" y2="500.43" stroke="#111" stroke-width="1.2"/>
<path d="M241.93 500.78H275.93" stroke="#484848" stroke-width="1.25" fill="none"/>
<path d="M241.93 498.68V502.88M275.93 498.68V502.88" stroke="#1e1e1e" stroke-width="1.25" fill="none"/>
<path d="M259.00 498.18L261.60 500.78L259.00 503.38L256.40 500.78Z" fill="#c8102e"/>
<text x="158.30" y="503.13" font-size="8.0" text-anchor="end" class="r">Venetoclax-based therapy</text>
<text x="408.70" y="503.63" font-size="8.2" text-anchor="middle" transform="matrix(0.985 0 0 1 6.131 0)" class="r">1.00 (0.66, 1.51)</text>
<text x="467.00" y="503.63" font-size="8.2" text-anchor="middle" transform="matrix(0.985 0 0 1 7.005 0)" class="r">1.000</text>
<text x="506.20" y="503.63" font-size="8.2" text-anchor="middle" transform="matrix(0.985 0 0 1 7.593 0)" class="r">123</text>
<line x1="161.2" y1="511.57" x2="164.5" y2="511.57" stroke="#111" stroke-width="1.2"/>
<path d="M278.05 511.92H312.19" stroke="#484848" stroke-width="1.25" fill="none"/>
<path d="M278.05 509.82V514.02M312.19 509.82V514.02" stroke="#1e1e1e" stroke-width="1.25" fill="none"/>
<path d="M294.97 509.32L297.57 511.92L294.97 514.52L292.37 511.92Z" fill="#c8102e"/>
<text x="158.30" y="514.27" font-size="8.0" text-anchor="end" class="r">MRD status (positive)</text>
<text x="408.70" y="514.77" font-size="8.2" text-anchor="middle" transform="matrix(0.985 0 0 1 6.131 0)" class="r">2.40 (1.59, 3.65)</text>
<text x="467.00" y="514.77" font-size="8.2" text-anchor="middle" transform="matrix(0.985 0 0 1 7.005 0)" class="r">&lt;0.001</text>
<text x="506.20" y="514.77" font-size="8.2" text-anchor="middle" transform="matrix(0.985 0 0 1 7.593 0)" class="r">109</text>
<line x1="161.2" y1="522.71" x2="164.5" y2="522.71" stroke="#111" stroke-width="1.2"/>
<path d="M202.05 523.06H243.76" stroke="#484848" stroke-width="1.25" fill="none"/>
<path d="M202.05 520.96V525.16M243.76 520.96V525.16" stroke="#1e1e1e" stroke-width="1.25" fill="none"/>
<path d="M223.36 520.46L225.96 523.06L223.36 525.66L220.76 523.06Z" fill="#c8102e"/>
<text x="158.30" y="525.41" font-size="8.0" text-anchor="end" class="r">Allogeneic SCT</text>
<text x="408.70" y="525.91" font-size="8.2" text-anchor="middle" transform="matrix(0.985 0 0 1 6.131 0)" class="r">0.42 (0.25, 0.69)</text>
<text x="467.00" y="525.91" font-size="8.2" text-anchor="middle" transform="matrix(0.985 0 0 1 7.005 0)" class="r">&lt;0.001</text>
<text x="506.20" y="525.91" font-size="8.2" text-anchor="middle" transform="matrix(0.985 0 0 1 7.593 0)" class="r">123</text>
</svg></body></html>
